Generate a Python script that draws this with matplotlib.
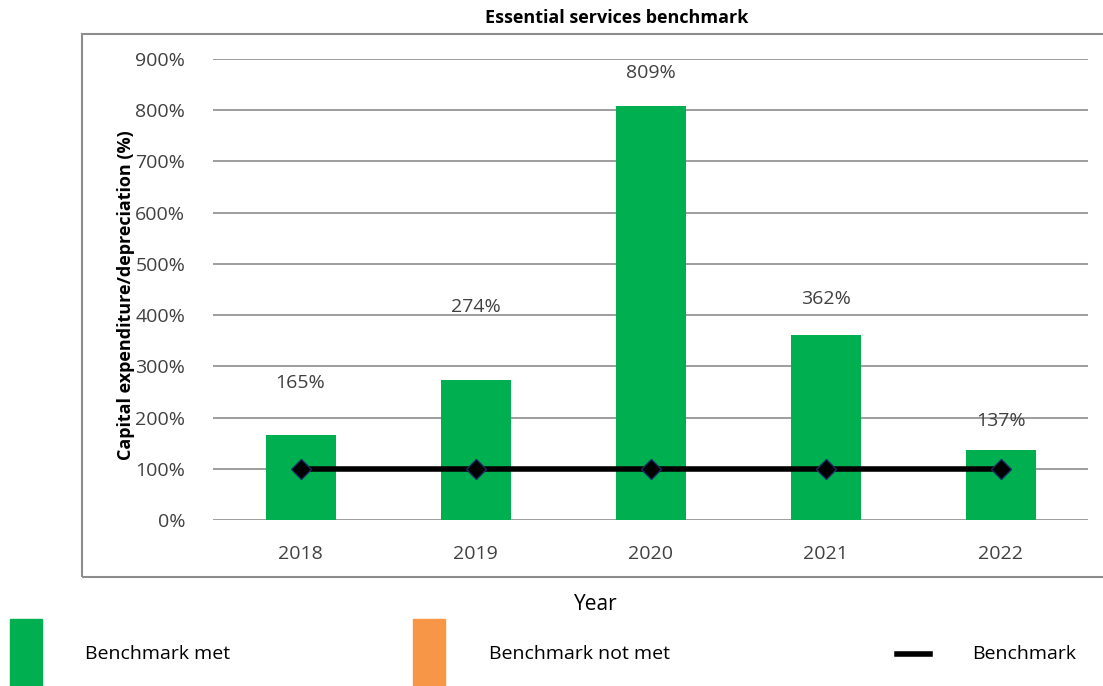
import matplotlib
matplotlib.use("Agg")
from matplotlib import pyplot as plt
from matplotlib.patches import Rectangle
from matplotlib.lines import Line2D
from matplotlib.ticker import FuncFormatter

plt.rcParams['font.family'] = ['Open Sans', 'DejaVu Sans']

years = ['2018', '2019', '2020', '2021', '2022']
ratio = [165, 274, 809, 362, 137]
benchmark = [100, 100, 100, 100, 100]
yticks = [0, 100, 200, 300, 400, 500, 600, 700, 800, 900]

green = '#00B050'
orange = '#F79646'
txt = '#404040'

W, H = 1103, 686
fig = plt.figure(figsize=(W / 100, H / 100), dpi=100)

# grey frame around the chart area
fig.patches.append(Rectangle((82 / W, 1 - 577 / H), (1110 - 82) / W, (577 - 34) / H,
                             transform=fig.transFigure, fill=False,
                             edgecolor='#8c8c8c', linewidth=1.5))

ax = fig.add_axes([213 / W, 1 - 520 / H, (1088 - 213) / W, (520 - 59) / H])
x = list(range(len(years)))
ax.bar(x, ratio, width=0.4, color=green, zorder=2)
ax.plot(x, benchmark, color='black', linewidth=4, marker='D', markersize=10,
        markerfacecolor='black', markeredgecolor='#1f2a60', markeredgewidth=1, zorder=3)

# value labels sit above the bars
label_pos = [268, 416, 873, 432, 193]
for xi, v, ly in zip(x, ratio, label_pos):
    ax.text(xi, ly, f'{v}%', ha='center', va='center', fontsize=14, color=txt)

ax.set_xlim(-0.5, 4.5)
ax.set_ylim(0, 900)
ax.set_yticks(yticks)
ax.yaxis.set_major_formatter(FuncFormatter(lambda v, p: f'{int(v)}%'))
ax.set_xticks(x)
ax.set_xticklabels(years)
ax.tick_params(axis='both', length=0, labelsize=14, colors=txt)
ax.tick_params(axis='y', pad=20)
ax.tick_params(axis='x', pad=18)
ax.grid(axis='y', color='#8c8c8c', linewidth=1.2, zorder=0)
for s in ax.spines.values():
    s.set_visible(False)

ax.set_ylabel('Capital expenditure/depreciation (%)', fontsize=13, fontweight='bold',
              color='black', labelpad=10)
ax.yaxis.set_label_coords(-(213 - 135) / (1088 - 213), 0.488)

fig.text(617 / W, 1 - 18 / H, 'Essential services benchmark', ha='center', va='center',
         fontsize=13, fontweight='bold')
fig.text(596 / W, 1 - 604 / H, 'Year', ha='center', va='center', fontsize=15)

# legend along the bottom
fig.patches.append(Rectangle((10 / W, 0), 32 / W, 67 / H, transform=fig.transFigure,
                             color=green))
fig.patches.append(Rectangle((413 / W, 0), 32 / W, 67 / H, transform=fig.transFigure,
                             color=orange))
fig.lines.append(Line2D([897 / W, 930 / W], [1 - 654 / H, 1 - 654 / H],
                        transform=fig.transFigure, color='black', linewidth=4))
fig.text(85 / W, 1 - 654 / H, 'Benchmark met', va='center', fontsize=14)
fig.text(489 / W, 1 - 654 / H, 'Benchmark not met', va='center', fontsize=14)
fig.text(972 / W, 1 - 654 / H, 'Benchmark', va='center', fontsize=14)

fig.savefig('out.png', dpi=100)
